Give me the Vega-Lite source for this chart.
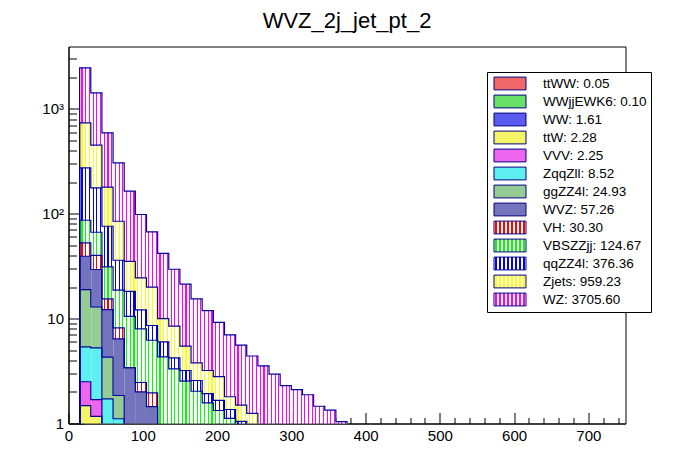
{
  "$schema": "https://vega.github.io/schema/vega-lite/v6.json",
  "autosize": {"type": "none"},
  "padding": {"left": 68.5, "top": 46.5, "right": 70.5, "bottom": 48.5},
  "width": 557,
  "height": 377,
  "title": {"text": "WVZ_2j_jet_pt_2", "font": "Liberation Sans", "fontSize": 22, "fontWeight": "normal", "color": "black", "offset": 14, "anchor": "middle"},
  "datasets": {
    "bins": [
      {"pt": 0, "ttWW": 0.001, "WWjjEWK6": 0, "WW": 0, "ttW": 0, "VVV": 0, "ZqqZll": 0, "ggZZ4l": 0, "WVZ": 0, "VH": 0, "VBSZZjj": 0, "qqZZ4l": 0, "Zjets": 0, "WZ": 0},
      {"pt": 15, "ttWW": 0.02, "WWjjEWK6": 0.03, "WW": 0.5, "ttW": 0.93, "VVV": 1.02, "ZqqZll": 2.88, "ggZZ4l": 13.52, "WVZ": 20.4, "VH": 13.5, "VBSZZjj": 33.9, "qqZZ4l": 187.3, "Zjets": 461, "WZ": 1725},
      {"pt": 30, "ttWW": 0.015, "WWjjEWK6": 0.03, "WW": 0.4, "ttW": 0.725, "VVV": 0.52, "ZqqZll": 3.58, "ggZZ4l": 7.63, "WVZ": 16.5, "VH": 10.6, "VBSZZjj": 26.6, "qqZZ4l": 110, "Zjets": 273.4, "WZ": 970},
      {"pt": 45, "ttWW": 0.01, "WWjjEWK6": 0.02, "WW": 0.25, "ttW": 0.3, "VVV": 0.35, "ZqqZll": 0.79, "ggZZ4l": 2.57, "WVZ": 7.91, "VH": 3.2, "VBSZZjj": 15.8, "qqZZ4l": 44.8, "Zjets": 103, "WZ": 411},
      {"pt": 60, "ttWW": 0.005, "WWjjEWK6": 0.01, "WW": 0.15, "ttW": 0.15, "VVV": 0.15, "ZqqZll": 0.645, "ggZZ4l": 0.74, "WVZ": 4.57, "VH": 1.75, "VBSZZjj": 10.53, "qqZZ4l": 17.3, "Zjets": 48.8, "WZ": 220.2},
      {"pt": 75, "ttWW": 0, "WWjjEWK6": 0.01, "WW": 0.1, "ttW": 0.08, "VVV": 0.1, "ZqqZll": 0.3, "ggZZ4l": 0.3, "WVZ": 2.51, "VH": 0, "VBSZZjj": 7.1, "qqZZ4l": 7.7, "Zjets": 17, "WZ": 128.8},
      {"pt": 90, "ttWW": 0, "WWjjEWK6": 0.005, "WW": 0.06, "ttW": 0.06, "VVV": 0.05, "ZqqZll": 0.2, "ggZZ4l": 0.2, "WVZ": 1.425, "VH": 0.46, "VBSZZjj": 5.54, "qqZZ4l": 4.1, "Zjets": 12.4, "WZ": 73.8},
      {"pt": 105, "ttWW": 0, "WWjjEWK6": 0.005, "WW": 0.04, "ttW": 0.04, "VVV": 0.03, "ZqqZll": 0.1, "ggZZ4l": 0.15, "WVZ": 1.085, "VH": 0.51, "VBSZZjj": 4.26, "qqZZ4l": 2.38, "Zjets": 11.4, "WZ": 47.2},
      {"pt": 120, "ttWW": 0, "WWjjEWK6": 0, "WW": 0.03, "ttW": 0.03, "VVV": 0.02, "ZqqZll": 0.05, "ggZZ4l": 0.1, "WVZ": 0.5, "VH": 0.15, "VBSZZjj": 3.44, "qqZZ4l": 1.68, "Zjets": 4.0, "WZ": 31.8},
      {"pt": 135, "ttWW": 0, "WWjjEWK6": 0, "WW": 0.02, "ttW": 0.02, "VVV": 0.02, "ZqqZll": 0.04, "ggZZ4l": 0.08, "WVZ": 0.4, "VH": 0.12, "VBSZZjj": 2.62, "qqZZ4l": 0.91, "Zjets": 4.24, "WZ": 21.1},
      {"pt": 150, "ttWW": 0, "WWjjEWK6": 0, "WW": 0.004, "ttW": 0.01, "VVV": 0.01, "ZqqZll": 0.03, "ggZZ4l": 0.06, "WVZ": 0.3, "VH": 0.1, "VBSZZjj": 2.016, "qqZZ4l": 0.67, "Zjets": 2.26, "WZ": 15.84},
      {"pt": 165, "ttWW": 0, "WWjjEWK6": 0, "WW": 0.004, "ttW": 0.01, "VVV": 0.01, "ZqqZll": 0.02, "ggZZ4l": 0.05, "WVZ": 0.25, "VH": 0.08, "VBSZZjj": 1.606, "qqZZ4l": 0.54, "Zjets": 1.22, "WZ": 11.61},
      {"pt": 180, "ttWW": 0, "WWjjEWK6": 0, "WW": 0.004, "ttW": 0.01, "VVV": 0.005, "ZqqZll": 0.02, "ggZZ4l": 0.04, "WVZ": 0.2, "VH": 0.06, "VBSZZjj": 1.231, "qqZZ4l": 0.36, "Zjets": 1.27, "WZ": 8.7},
      {"pt": 195, "ttWW": 0, "WWjjEWK6": 0, "WW": 0.004, "ttW": 0.01, "VVV": 0.005, "ZqqZll": 0.01, "ggZZ4l": 0.03, "WVZ": 0.15, "VH": 0.05, "VBSZZjj": 1.071, "qqZZ4l": 0.33, "Zjets": 1.14, "WZ": 6.4},
      {"pt": 210, "ttWW": 0, "WWjjEWK6": 0, "WW": 0.004, "ttW": 0.005, "VVV": 0.005, "ZqqZll": 0.01, "ggZZ4l": 0.03, "WVZ": 0.12, "VH": 0.04, "VBSZZjj": 0.906, "qqZZ4l": 0.24, "Zjets": 0.44, "WZ": 5.2},
      {"pt": 225, "ttWW": 0, "WWjjEWK6": 0, "WW": 0.004, "ttW": 0.005, "VVV": 0, "ZqqZll": 0.01, "ggZZ4l": 0.02, "WVZ": 0.1, "VH": 0.03, "VBSZZjj": 0.681, "qqZZ4l": 0.2, "Zjets": 0.45, "WZ": 4.1},
      {"pt": 240, "ttWW": 0, "WWjjEWK6": 0, "WW": 0.004, "ttW": 0.005, "VVV": 0, "ZqqZll": 0.01, "ggZZ4l": 0.02, "WVZ": 0.08, "VH": 0.03, "VBSZZjj": 0.55, "qqZZ4l": 0.18, "Zjets": 0.371, "WZ": 3.15},
      {"pt": 255, "ttWW": 0, "WWjjEWK6": 0, "WW": 0.004, "ttW": 0.005, "VVV": 0, "ZqqZll": 0, "ggZZ4l": 0.01, "WVZ": 0.06, "VH": 0.02, "VBSZZjj": 0.45, "qqZZ4l": 0.15, "Zjets": 0.2, "WZ": 2.65},
      {"pt": 270, "ttWW": 0, "WWjjEWK6": 0, "WW": 0.004, "ttW": 0, "VVV": 0, "ZqqZll": 0, "ggZZ4l": 0, "WVZ": 0.05, "VH": 0.02, "VBSZZjj": 0.35, "qqZZ4l": 0.12, "Zjets": 0.16, "WZ": 2.246},
      {"pt": 285, "ttWW": 0, "WWjjEWK6": 0, "WW": 0.004, "ttW": 0, "VVV": 0, "ZqqZll": 0, "ggZZ4l": 0, "WVZ": 0.04, "VH": 0.01, "VBSZZjj": 0.3, "qqZZ4l": 0.1, "Zjets": 0.1, "WZ": 1.746},
      {"pt": 300, "ttWW": 0, "WWjjEWK6": 0, "WW": 0.004, "ttW": 0, "VVV": 0, "ZqqZll": 0, "ggZZ4l": 0, "WVZ": 0.03, "VH": 0.01, "VBSZZjj": 0.25, "qqZZ4l": 0.08, "Zjets": 0.08, "WZ": 1.646},
      {"pt": 315, "ttWW": 0, "WWjjEWK6": 0, "WW": 0.004, "ttW": 0, "VVV": 0, "ZqqZll": 0, "ggZZ4l": 0, "WVZ": 0.03, "VH": 0, "VBSZZjj": 0.2, "qqZZ4l": 0.06, "Zjets": 0.06, "WZ": 1.526},
      {"pt": 330, "ttWW": 0, "WWjjEWK6": 0, "WW": 0.004, "ttW": 0, "VVV": 0, "ZqqZll": 0, "ggZZ4l": 0, "WVZ": 0.02, "VH": 0, "VBSZZjj": 0.18, "qqZZ4l": 0.05, "Zjets": 0.05, "WZ": 1.156},
      {"pt": 345, "ttWW": 0, "WWjjEWK6": 0, "WW": 0.004, "ttW": 0, "VVV": 0, "ZqqZll": 0, "ggZZ4l": 0, "WVZ": 0.02, "VH": 0, "VBSZZjj": 0.15, "qqZZ4l": 0.04, "Zjets": 0.04, "WZ": 1.086},
      {"pt": 360, "ttWW": 0, "WWjjEWK6": 0, "WW": 0.004, "ttW": 0, "VVV": 0, "ZqqZll": 0, "ggZZ4l": 0, "WVZ": 0.01, "VH": 0, "VBSZZjj": 0.12, "qqZZ4l": 0.03, "Zjets": 0.03, "WZ": 0.846},
      {"pt": 375, "ttWW": 0.001, "WWjjEWK6": 0, "WW": 0, "ttW": 0, "VVV": 0, "ZqqZll": 0, "ggZZ4l": 0, "WVZ": 0, "VH": 0, "VBSZZjj": 0, "qqZZ4l": 0, "Zjets": 0, "WZ": 0}
    ],
    "processes": [
      {"process": "ttWW", "label": "ttWW: 0.05", "rank": 1},
      {"process": "WWjjEWK6", "label": "WWjjEWK6: 0.10", "rank": 2},
      {"process": "WW", "label": "WW: 1.61", "rank": 3},
      {"process": "ttW", "label": "ttW: 2.28", "rank": 4},
      {"process": "VVV", "label": "VVV: 2.25", "rank": 5},
      {"process": "ZqqZll", "label": "ZqqZll: 8.52", "rank": 6},
      {"process": "ggZZ4l", "label": "ggZZ4l: 24.93", "rank": 7},
      {"process": "WVZ", "label": "WVZ: 57.26", "rank": 8},
      {"process": "VH", "label": "VH: 30.30", "rank": 9},
      {"process": "VBSZZjj", "label": "VBSZZjj: 124.67", "rank": 10},
      {"process": "qqZZ4l", "label": "qqZZ4l: 376.36", "rank": 11},
      {"process": "Zjets", "label": "Zjets: 959.23", "rank": 12},
      {"process": "WZ", "label": "WZ: 3705.60", "rank": 13}
    ]
  },
  "data": {"name": "bins"},
  "transform": [
    {"fold": ["ttWW", "WWjjEWK6", "WW", "ttW", "VVV", "ZqqZll", "ggZZ4l", "WVZ", "VH", "VBSZZjj", "qqZZ4l", "Zjets", "WZ"], "as": ["process", "value"]},
    {"lookup": "process", "from": {"data": {"name": "processes"}, "key": "process", "fields": ["label", "rank"]}},
    {"stack": "value", "groupby": ["pt"], "sort": [{"field": "rank", "order": "ascending"}], "as": ["lo", "hi"]}
  ],
  "layer": [
    {
      "transform": [{"filter": "datum.lo > 0"}],
      "mark": {"type": "bar", "binSpacing": 0, "clip": true},
      "encoding": {
        "x": {
          "field": "pt", "type": "quantitative", "bin": {"binned": true, "step": 15},
          "scale": {"domain": [0, 750], "nice": false, "zero": false},
          "axis": {"orient": "bottom", "values": [0, 100, 200, 300, 400, 500, 600, 700], "title": null, "grid": false, "tickSize": -11, "labelPadding": 16, "labelFlush": false, "labelOverlap": false, "format": "d"}
        },
        "y": {
          "field": "lo", "type": "quantitative",
          "scale": {"type": "log", "domain": [1, 3930], "nice": false},
          "axis": {"orient": "left", "values": [1, 10, 100, 1000], "title": null, "grid": false, "tickSize": -16, "labelPadding": 21, "labelOverlap": false, "labelExpr": "datum.value == 1000 ? '10³' : datum.value == 100 ? '10²' : datum.value == 10 ? '10' : '1'"}
        },
        "y2": {"field": "hi"},
        "color": {
          "condition": [
            {"test": "datum.process === 'VH'", "value": {"gradient": "linear", "x1": 0, "y1": 0, "x2": 1, "y2": 0, "stops": [{"offset": 0.117, "color": "#ffffff"}, {"offset": 0.117, "color": "#ff0000"}, {"offset": 0.217, "color": "#ff0000"}, {"offset": 0.217, "color": "#ffffff"}, {"offset": 0.45, "color": "#ffffff"}, {"offset": 0.45, "color": "#ff0000"}, {"offset": 0.55, "color": "#ff0000"}, {"offset": 0.55, "color": "#ffffff"}, {"offset": 0.783, "color": "#ffffff"}, {"offset": 0.783, "color": "#ff0000"}, {"offset": 0.883, "color": "#ff0000"}, {"offset": 0.883, "color": "#ffffff"}]}},
            {"test": "datum.process === 'VBSZZjj'", "value": {"gradient": "linear", "x1": 0, "y1": 0, "x2": 1, "y2": 0, "stops": [{"offset": 0.117, "color": "#ffffff"}, {"offset": 0.117, "color": "#00ff00"}, {"offset": 0.217, "color": "#00ff00"}, {"offset": 0.217, "color": "#ffffff"}, {"offset": 0.45, "color": "#ffffff"}, {"offset": 0.45, "color": "#00ff00"}, {"offset": 0.55, "color": "#00ff00"}, {"offset": 0.55, "color": "#ffffff"}, {"offset": 0.783, "color": "#ffffff"}, {"offset": 0.783, "color": "#00ff00"}, {"offset": 0.883, "color": "#00ff00"}, {"offset": 0.883, "color": "#ffffff"}]}},
            {"test": "datum.process === 'qqZZ4l'", "value": {"gradient": "linear", "x1": 0, "y1": 0, "x2": 1, "y2": 0, "stops": [{"offset": 0.117, "color": "#ffffff"}, {"offset": 0.117, "color": "#0000ff"}, {"offset": 0.217, "color": "#0000ff"}, {"offset": 0.217, "color": "#ffffff"}, {"offset": 0.45, "color": "#ffffff"}, {"offset": 0.45, "color": "#0000ff"}, {"offset": 0.55, "color": "#0000ff"}, {"offset": 0.55, "color": "#ffffff"}, {"offset": 0.783, "color": "#ffffff"}, {"offset": 0.783, "color": "#0000ff"}, {"offset": 0.883, "color": "#0000ff"}, {"offset": 0.883, "color": "#ffffff"}]}},
            {"test": "datum.process === 'Zjets'", "value": {"gradient": "linear", "x1": 0, "y1": 0, "x2": 1, "y2": 0, "stops": [{"offset": 0.117, "color": "#ffffff"}, {"offset": 0.117, "color": "#ffff00"}, {"offset": 0.217, "color": "#ffff00"}, {"offset": 0.217, "color": "#ffffff"}, {"offset": 0.45, "color": "#ffffff"}, {"offset": 0.45, "color": "#ffff00"}, {"offset": 0.55, "color": "#ffff00"}, {"offset": 0.55, "color": "#ffffff"}, {"offset": 0.783, "color": "#ffffff"}, {"offset": 0.783, "color": "#ffff00"}, {"offset": 0.883, "color": "#ffff00"}, {"offset": 0.883, "color": "#ffffff"}]}},
            {"test": "datum.process === 'WZ'", "value": {"gradient": "linear", "x1": 0, "y1": 0, "x2": 1, "y2": 0, "stops": [{"offset": 0.117, "color": "#ffffff"}, {"offset": 0.117, "color": "#ff00ff"}, {"offset": 0.217, "color": "#ff00ff"}, {"offset": 0.217, "color": "#ffffff"}, {"offset": 0.45, "color": "#ffffff"}, {"offset": 0.45, "color": "#ff00ff"}, {"offset": 0.55, "color": "#ff00ff"}, {"offset": 0.55, "color": "#ffffff"}, {"offset": 0.783, "color": "#ffffff"}, {"offset": 0.783, "color": "#ff00ff"}, {"offset": 0.883, "color": "#ff00ff"}, {"offset": 0.883, "color": "#ffffff"}]}}
          ],
          "field": "label", "type": "nominal",
          "scale": {
            "domain": ["ttWW: 0.05", "WWjjEWK6: 0.10", "WW: 1.61", "ttW: 2.28", "VVV: 2.25", "ZqqZll: 8.52", "ggZZ4l: 24.93", "WVZ: 57.26", "VH: 30.30", "VBSZZjj: 124.67", "qqZZ4l: 376.36", "Zjets: 959.23", "WZ: 3705.60"],
            "range": [
              "#f06868", "#68e068", "#5a5aee", "#f4f466", "#ee66ee", "#5ef0f0", "#94cc94", "#7474bc",
              {"expr": "{gradient: 'linear', x1: 0, y1: 0, x2: 1, y2: 0, stops: [{offset: 0.039, color: 'rgb(255,255,255)'}, {offset: 0.039, color: 'rgb(255,0,0)'}, {offset: 0.086, color: 'rgb(255,0,0)'}, {offset: 0.086, color: 'rgb(255,255,255)'}, {offset: 0.164, color: 'rgb(255,255,255)'}, {offset: 0.164, color: 'rgb(255,0,0)'}, {offset: 0.211, color: 'rgb(255,0,0)'}, {offset: 0.211, color: 'rgb(255,255,255)'}, {offset: 0.289, color: 'rgb(255,255,255)'}, {offset: 0.289, color: 'rgb(255,0,0)'}, {offset: 0.336, color: 'rgb(255,0,0)'}, {offset: 0.336, color: 'rgb(255,255,255)'}, {offset: 0.414, color: 'rgb(255,255,255)'}, {offset: 0.414, color: 'rgb(255,0,0)'}, {offset: 0.461, color: 'rgb(255,0,0)'}, {offset: 0.461, color: 'rgb(255,255,255)'}, {offset: 0.539, color: 'rgb(255,255,255)'}, {offset: 0.539, color: 'rgb(255,0,0)'}, {offset: 0.586, color: 'rgb(255,0,0)'}, {offset: 0.586, color: 'rgb(255,255,255)'}, {offset: 0.664, color: 'rgb(255,255,255)'}, {offset: 0.664, color: 'rgb(255,0,0)'}, {offset: 0.711, color: 'rgb(255,0,0)'}, {offset: 0.711, color: 'rgb(255,255,255)'}, {offset: 0.789, color: 'rgb(255,255,255)'}, {offset: 0.789, color: 'rgb(255,0,0)'}, {offset: 0.836, color: 'rgb(255,0,0)'}, {offset: 0.836, color: 'rgb(255,255,255)'}, {offset: 0.914, color: 'rgb(255,255,255)'}, {offset: 0.914, color: 'rgb(255,0,0)'}, {offset: 0.961, color: 'rgb(255,0,0)'}, {offset: 0.961, color: 'rgb(255,255,255)'}]}"},
              {"expr": "{gradient: 'linear', x1: 0, y1: 0, x2: 1, y2: 0, stops: [{offset: 0.039, color: 'rgb(255,255,255)'}, {offset: 0.039, color: 'rgb(0,255,0)'}, {offset: 0.086, color: 'rgb(0,255,0)'}, {offset: 0.086, color: 'rgb(255,255,255)'}, {offset: 0.164, color: 'rgb(255,255,255)'}, {offset: 0.164, color: 'rgb(0,255,0)'}, {offset: 0.211, color: 'rgb(0,255,0)'}, {offset: 0.211, color: 'rgb(255,255,255)'}, {offset: 0.289, color: 'rgb(255,255,255)'}, {offset: 0.289, color: 'rgb(0,255,0)'}, {offset: 0.336, color: 'rgb(0,255,0)'}, {offset: 0.336, color: 'rgb(255,255,255)'}, {offset: 0.414, color: 'rgb(255,255,255)'}, {offset: 0.414, color: 'rgb(0,255,0)'}, {offset: 0.461, color: 'rgb(0,255,0)'}, {offset: 0.461, color: 'rgb(255,255,255)'}, {offset: 0.539, color: 'rgb(255,255,255)'}, {offset: 0.539, color: 'rgb(0,255,0)'}, {offset: 0.586, color: 'rgb(0,255,0)'}, {offset: 0.586, color: 'rgb(255,255,255)'}, {offset: 0.664, color: 'rgb(255,255,255)'}, {offset: 0.664, color: 'rgb(0,255,0)'}, {offset: 0.711, color: 'rgb(0,255,0)'}, {offset: 0.711, color: 'rgb(255,255,255)'}, {offset: 0.789, color: 'rgb(255,255,255)'}, {offset: 0.789, color: 'rgb(0,255,0)'}, {offset: 0.836, color: 'rgb(0,255,0)'}, {offset: 0.836, color: 'rgb(255,255,255)'}, {offset: 0.914, color: 'rgb(255,255,255)'}, {offset: 0.914, color: 'rgb(0,255,0)'}, {offset: 0.961, color: 'rgb(0,255,0)'}, {offset: 0.961, color: 'rgb(255,255,255)'}]}"},
              {"expr": "{gradient: 'linear', x1: 0, y1: 0, x2: 1, y2: 0, stops: [{offset: 0.039, color: 'rgb(255,255,255)'}, {offset: 0.039, color: 'rgb(0,0,255)'}, {offset: 0.086, color: 'rgb(0,0,255)'}, {offset: 0.086, color: 'rgb(255,255,255)'}, {offset: 0.164, color: 'rgb(255,255,255)'}, {offset: 0.164, color: 'rgb(0,0,255)'}, {offset: 0.211, color: 'rgb(0,0,255)'}, {offset: 0.211, color: 'rgb(255,255,255)'}, {offset: 0.289, color: 'rgb(255,255,255)'}, {offset: 0.289, color: 'rgb(0,0,255)'}, {offset: 0.336, color: 'rgb(0,0,255)'}, {offset: 0.336, color: 'rgb(255,255,255)'}, {offset: 0.414, color: 'rgb(255,255,255)'}, {offset: 0.414, color: 'rgb(0,0,255)'}, {offset: 0.461, color: 'rgb(0,0,255)'}, {offset: 0.461, color: 'rgb(255,255,255)'}, {offset: 0.539, color: 'rgb(255,255,255)'}, {offset: 0.539, color: 'rgb(0,0,255)'}, {offset: 0.586, color: 'rgb(0,0,255)'}, {offset: 0.586, color: 'rgb(255,255,255)'}, {offset: 0.664, color: 'rgb(255,255,255)'}, {offset: 0.664, color: 'rgb(0,0,255)'}, {offset: 0.711, color: 'rgb(0,0,255)'}, {offset: 0.711, color: 'rgb(255,255,255)'}, {offset: 0.789, color: 'rgb(255,255,255)'}, {offset: 0.789, color: 'rgb(0,0,255)'}, {offset: 0.836, color: 'rgb(0,0,255)'}, {offset: 0.836, color: 'rgb(255,255,255)'}, {offset: 0.914, color: 'rgb(255,255,255)'}, {offset: 0.914, color: 'rgb(0,0,255)'}, {offset: 0.961, color: 'rgb(0,0,255)'}, {offset: 0.961, color: 'rgb(255,255,255)'}]}"},
              {"expr": "{gradient: 'linear', x1: 0, y1: 0, x2: 1, y2: 0, stops: [{offset: 0.039, color: 'rgb(255,255,255)'}, {offset: 0.039, color: 'rgb(255,255,0)'}, {offset: 0.086, color: 'rgb(255,255,0)'}, {offset: 0.086, color: 'rgb(255,255,255)'}, {offset: 0.164, color: 'rgb(255,255,255)'}, {offset: 0.164, color: 'rgb(255,255,0)'}, {offset: 0.211, color: 'rgb(255,255,0)'}, {offset: 0.211, color: 'rgb(255,255,255)'}, {offset: 0.289, color: 'rgb(255,255,255)'}, {offset: 0.289, color: 'rgb(255,255,0)'}, {offset: 0.336, color: 'rgb(255,255,0)'}, {offset: 0.336, color: 'rgb(255,255,255)'}, {offset: 0.414, color: 'rgb(255,255,255)'}, {offset: 0.414, color: 'rgb(255,255,0)'}, {offset: 0.461, color: 'rgb(255,255,0)'}, {offset: 0.461, color: 'rgb(255,255,255)'}, {offset: 0.539, color: 'rgb(255,255,255)'}, {offset: 0.539, color: 'rgb(255,255,0)'}, {offset: 0.586, color: 'rgb(255,255,0)'}, {offset: 0.586, color: 'rgb(255,255,255)'}, {offset: 0.664, color: 'rgb(255,255,255)'}, {offset: 0.664, color: 'rgb(255,255,0)'}, {offset: 0.711, color: 'rgb(255,255,0)'}, {offset: 0.711, color: 'rgb(255,255,255)'}, {offset: 0.789, color: 'rgb(255,255,255)'}, {offset: 0.789, color: 'rgb(255,255,0)'}, {offset: 0.836, color: 'rgb(255,255,0)'}, {offset: 0.836, color: 'rgb(255,255,255)'}, {offset: 0.914, color: 'rgb(255,255,255)'}, {offset: 0.914, color: 'rgb(255,255,0)'}, {offset: 0.961, color: 'rgb(255,255,0)'}, {offset: 0.961, color: 'rgb(255,255,255)'}]}"},
              {"expr": "{gradient: 'linear', x1: 0, y1: 0, x2: 1, y2: 0, stops: [{offset: 0.039, color: 'rgb(255,255,255)'}, {offset: 0.039, color: 'rgb(255,0,255)'}, {offset: 0.086, color: 'rgb(255,0,255)'}, {offset: 0.086, color: 'rgb(255,255,255)'}, {offset: 0.164, color: 'rgb(255,255,255)'}, {offset: 0.164, color: 'rgb(255,0,255)'}, {offset: 0.211, color: 'rgb(255,0,255)'}, {offset: 0.211, color: 'rgb(255,255,255)'}, {offset: 0.289, color: 'rgb(255,255,255)'}, {offset: 0.289, color: 'rgb(255,0,255)'}, {offset: 0.336, color: 'rgb(255,0,255)'}, {offset: 0.336, color: 'rgb(255,255,255)'}, {offset: 0.414, color: 'rgb(255,255,255)'}, {offset: 0.414, color: 'rgb(255,0,255)'}, {offset: 0.461, color: 'rgb(255,0,255)'}, {offset: 0.461, color: 'rgb(255,255,255)'}, {offset: 0.539, color: 'rgb(255,255,255)'}, {offset: 0.539, color: 'rgb(255,0,255)'}, {offset: 0.586, color: 'rgb(255,0,255)'}, {offset: 0.586, color: 'rgb(255,255,255)'}, {offset: 0.664, color: 'rgb(255,255,255)'}, {offset: 0.664, color: 'rgb(255,0,255)'}, {offset: 0.711, color: 'rgb(255,0,255)'}, {offset: 0.711, color: 'rgb(255,255,255)'}, {offset: 0.789, color: 'rgb(255,255,255)'}, {offset: 0.789, color: 'rgb(255,0,255)'}, {offset: 0.836, color: 'rgb(255,0,255)'}, {offset: 0.836, color: 'rgb(255,255,255)'}, {offset: 0.914, color: 'rgb(255,255,255)'}, {offset: 0.914, color: 'rgb(255,0,255)'}, {offset: 0.961, color: 'rgb(255,0,255)'}, {offset: 0.961, color: 'rgb(255,255,255)'}]}"}
            ]
          },
          "legend": {
            "orient": "none", "legendX": 418.5, "legendY": 25.5, "title": null,
            "padding": 3.5, "strokeColor": "black", "fillColor": "white", "cornerRadius": 0,
            "symbolType": "M-2.133,-0.853H2.133V0.853H-2.133Z", "symbolSize": 225, "symbolOffset": 11.5,
            "symbolStrokeColor": "#000080", "symbolStrokeWidth": 1, "symbolOpacity": 1,
            "labelFont": "Liberation Sans", "labelFontSize": 13.5, "labelColor": "black", "labelOffset": 25, "rowPadding": 0
          }
        }
      }
    },
    {
      "transform": [{"filter": "datum.hi > 0"}],
      "mark": {"type": "line", "interpolate": "step-after", "color": "#000099", "strokeWidth": 1.2, "clip": true},
      "encoding": {
        "x": {
          "field": "pt", "type": "quantitative",
          "scale": {"domain": [0, 750], "nice": false, "zero": false},
          "axis": {"orient": "bottom", "values": [20, 40, 60, 80, 120, 140, 160, 180, 220, 240, 260, 280, 320, 340, 360, 380, 420, 440, 460, 480, 520, 540, 560, 580, 620, 640, 660, 680, 720, 740], "labels": false, "domain": false, "grid": false, "tickSize": -6, "title": null}
        },
        "y": {
          "field": "hi", "type": "quantitative",
          "scale": {"type": "log", "domain": [1, 3930], "nice": false},
          "axis": {"orient": "left", "values": [2, 3, 4, 5, 6, 7, 8, 9, 20, 30, 40, 50, 60, 70, 80, 90, 200, 300, 400, 500, 600, 700, 800, 900, 2000, 3000], "labels": false, "domain": false, "grid": false, "tickSize": -8, "title": null}
        },
        "detail": {"field": "process", "type": "nominal"}
      }
    }
  ],
  "resolve": {"axis": {"x": "independent", "y": "independent"}},
  "config": {
    "font": "Liberation Sans",
    "view": {"stroke": "black", "strokeWidth": 1},
    "axis": {"domainColor": "black", "tickColor": "black", "labelColor": "black", "labelFont": "Liberation Sans", "labelFontSize": 15, "domainWidth": 1, "tickWidth": 1}
  }
}
